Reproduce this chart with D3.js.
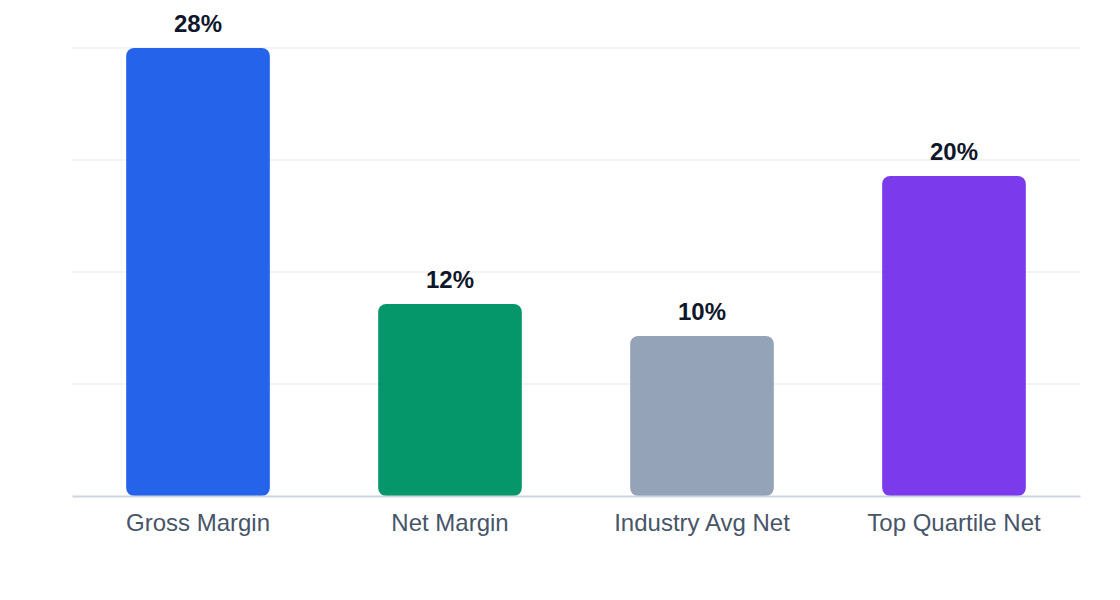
<!DOCTYPE html>
<html>
<head>
<meta charset="utf-8">
<script src="https://cdn.jsdelivr.net/npm/d3@7"></script>
<style>
	body { margin: 0; background: #fff; }
	svg { display: block; font-family: "Liberation Sans", Helvetica, Arial, sans-serif; }
</style>
</head>
<body>
<svg width="1120" height="600"></svg>
<script>
// chart data
const categories = ["Gross Margin", "Net Margin", "Industry Avg Net", "Top Quartile Net"];
const values = [28, 12, 10, 20];
const barColors = ["#2563eb", "#059669", "#94a3b8", "#7c3aed"];
const gridTicks = [0, 7, 14, 21, 28];

const svg = d3.select("svg");
const margin = { top: 48, right: 40, bottom: 104, left: 72 };
const width = 1120 - margin.left - margin.right;
const height = 600 - margin.top - margin.bottom;

const g = svg.append("g")
	.attr("transform", "translate(" + margin.left + "," + margin.top + ")");

const x = d3.scaleBand().domain(categories).range([0, width]).paddingInner(0.43).paddingOuter(0.215);
const y = d3.scaleLinear().domain([0, 28]).range([height, 0]);

// grid lines
g.append("g")
	.selectAll("line")
	.data(gridTicks.slice(1))
	.join("line")
	.attr("x1", 0)
	.attr("x2", width)
	.attr("y1", (d) => y(d))
	.attr("y2", (d) => y(d))
	.attr("stroke", "#eef0f4")
	.attr("stroke-width", 1.5);

// bars
g.append("g")
	.selectAll("rect")
	.data(values)
	.join("rect")
	.attr("x", (d, i) => x(categories[i]))
	.attr("y", (d) => y(d))
	.attr("width", x.bandwidth())
	.attr("height", (d) => y(0) - y(d))
	.attr("rx", 8)
	.attr("fill", (d, i) => barColors[i]);

// value labels
g.append("g")
	.selectAll("text")
	.data(values)
	.join("text")
	.attr("x", (d, i) => x(categories[i]) + x.bandwidth() / 2)
	.attr("y", (d) => y(d) - 16)
	.attr("text-anchor", "middle")
	.attr("font-size", "24px")
	.attr("font-weight", "bold")
	.attr("fill", "#0f172a")
	.text((d) => d + "%");

// x axis
g.append("g")
	.attr("transform", "translate(0," + height + ")")
	.call(d3.axisBottom(x).tickSize(0).tickPadding(18))
	.call((a) => a.select(".domain").attr("stroke", "#cbd5e1").attr("stroke-width", 2))
	.call((a) => a.selectAll(".tick text")
		.attr("font-size", "24px")
		.attr("font-family", "'Liberation Sans', Helvetica, Arial, sans-serif")
		.attr("fill", "#475569"));
</script>
</body>
</html>
